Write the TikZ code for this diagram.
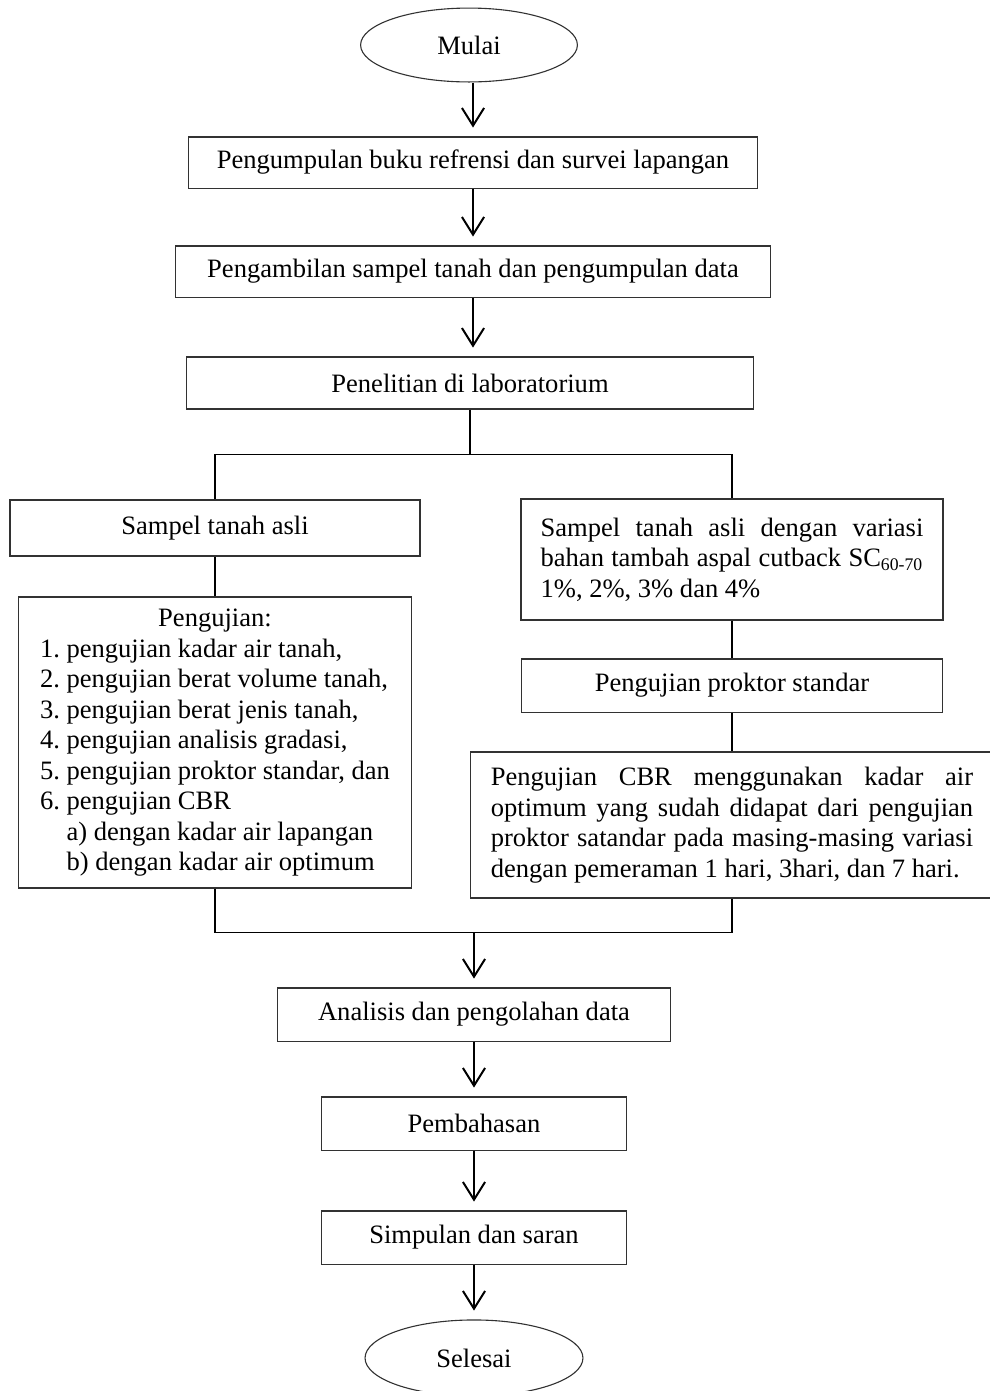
\documentclass[tikz,border=0pt]{standalone}
\usepackage{fontspec}
\setmainfont{Liberation Serif}
\usetikzlibrary{shapes.geometric,arrows.meta}
\definecolor{framegrey}{RGB}{50,50,50}
\frenchspacing

\begin{document}
\begin{tikzpicture}[x=0.452pt, y=-0.452pt,
  every node/.style={font=\fontsize{12pt}{13.8pt}\selectfont},
  box/.style={draw=framegrey, line width=0.5pt, rectangle, inner sep=0pt, align=center},
  oval/.style={draw=framegrey, line width=0.5pt, ellipse, inner sep=0pt},
  arr/.style={line width=0.9pt, -{Straight Barb[length=8pt,width=10pt,line width=0.9pt]}, shorten >=4pt},
  joinline/.style={line width=0.8pt},
  thinline/.style={line width=0.6pt}]
\useasboundingbox (0,0) rectangle (990,1391);

% main column
\node[oval, minimum width=98pt, minimum height=33.4pt] (mulai) at (469,45) {Mulai};
\node[box, minimum width=257.2pt, minimum height=23.1pt] (kumpul) at (473,162.5) {Pengumpulan buku refrensi dan survei lapangan};
\node[box, minimum width=268.9pt, minimum height=23.1pt] (ambil) at (473,271.5) {Pengambilan sampel tanah dan pengumpulan data};
\node[box, minimum width=256.3pt, minimum height=23.5pt] (teliti) at (470,383) {Penelitian di laboratorium};

% left branch
\node[box, minimum width=185.3pt, minimum height=25.3pt] (asli) at (215,528) {Sampel tanah asli};
\node[box, minimum width=177.6pt, minimum height=131.5pt] (uji) at (215,742.5) {%
  \begin{tabular}{@{}l@{}}
  \multicolumn{1}{@{}c@{}}{Pengujian:}\\
  1. pengujian kadar air tanah,\\
  2. pengujian berat volume tanah,\\
  3. pengujian berat jenis tanah,\\
  4. pengujian analisis gradasi,\\
  5. pengujian proktor standar, dan\\
  6. pengujian CBR\\
  \phantom{1. }a) dengan kadar air lapangan\\
  \phantom{1. }b) dengan kadar air optimum
  \end{tabular}};

% right branch
\node[box, minimum width=190.7pt, minimum height=54.7pt, text width=173pt, align=justify] (variasi) at (732,559.5) {Sampel tanah asli dengan variasi\linebreak bahan tambah aspal cutback SC\textsubscript{60-70}\linebreak 1\%, 2\%, 3\% dan 4\%};
\node[box, minimum width=190.3pt, minimum height=24pt] (proktor) at (732,685.5) {Pengujian proktor standar};
\node[box, minimum width=236pt, minimum height=66pt, text width=218pt, align=justify] (cbr) at (732,825) {Pengujian CBR menggunakan kadar air\linebreak optimum yang sudah didapat dari pengujian\linebreak proktor satandar pada masing-masing variasi\linebreak dengan pemeraman 1 hari, 3hari, dan 7 hari.};

% after merge
\node[box, minimum width=177.6pt, minimum height=24pt] (analisis) at (474,1014.5) {Analisis dan pengolahan data};
\node[box, minimum width=137.9pt, minimum height=24pt] (bahas) at (474,1123.5) {Pembahasan};
\node[box, minimum width=137.9pt, minimum height=24pt] (simpul) at (474,1237.5) {Simpulan dan saran};
\node[oval, minimum width=98.5pt, minimum height=34.4pt] (selesai) at (474,1358) {Selesai};

% connectors
\draw[arr] (mulai.south -| kumpul.north) -- (kumpul.north);
\draw[arr] (kumpul) -- (ambil);
\draw[arr] (ambil.south) -- (ambil.south |- teliti.north);
\draw[joinline] (teliti.south) -- ++(0,45) coordinate (cab1);
\draw[joinline] (asli.north) |- (cab1) -| (variasi.north);
\draw[thinline] (asli) -- (uji);
\draw[thinline] (variasi) -- (proktor);
\draw[thinline] (proktor) -- (cbr);
\draw[joinline] (uji.south) -- ++(0,44) coordinate (cab2) -| (cbr.south);
\draw[arr] (cab2 -| analisis.north) -- (analisis.north);
\draw[arr] (analisis) -- (bahas);
\draw[arr] (bahas) -- (simpul);
\draw[arr] (simpul) -- (selesai);
\end{tikzpicture}
\end{document}
